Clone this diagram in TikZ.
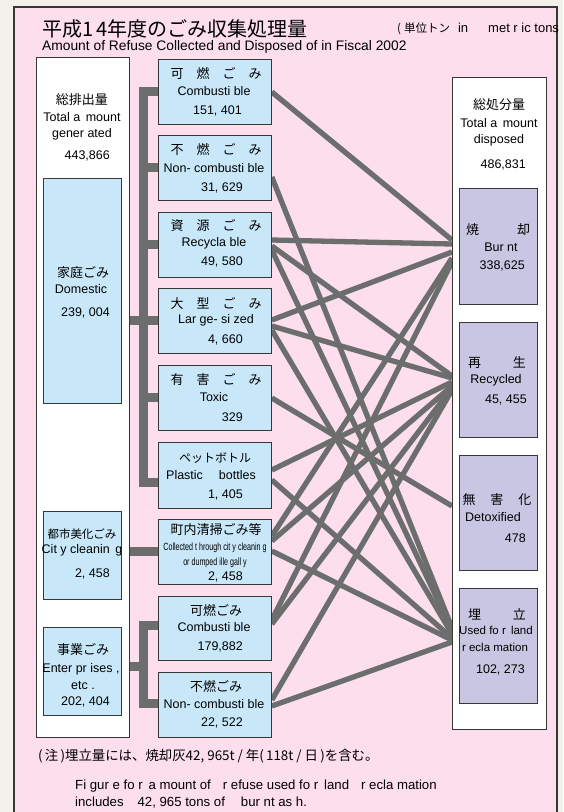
\documentclass[tikz,border=0pt]{standalone}
\usepackage{fontspec}
\setmainfont{Liberation Sans}
\newfontfamily\jp{Noto Sans CJK JP}
\definecolor{outerbg}{RGB}{244,240,236}
\definecolor{panel}{RGB}{252,222,236}
\definecolor{lblue}{RGB}{200,232,250}
\definecolor{lpurple}{RGB}{200,198,226}
\definecolor{lk}{RGB}{108,110,110}
\definecolor{edgec}{RGB}{55,55,55}
\pgfdeclarelayer{back}
\pgfdeclarelayer{links}
\pgfsetlayers{back,links,main}
\newcommand{\jg}{\hspace{13pt}}
\begin{document}
\begin{tikzpicture}[x=1pt,y=-1pt,
  bx/.style={draw=edgec, line width=0.8pt, inner sep=0pt, anchor=north west},
  wbox/.style={bx, fill=white},
  bbox/.style={bx, fill=lblue},
  pbox/.style={bx, fill=lpurple},
  link/.style={draw=lk, line width=5.3pt},
  trunk/.style={draw=lk, line width=9pt, line join=miter},
  jt/.style={font=\jp\fontsize{13}{15}\selectfont, inner sep=0pt},
  et/.style={font=\fontsize{12.5}{14}\selectfont, inner sep=0pt},
  nt/.style={font=\fontsize{12.5}{14}\selectfont, inner sep=0pt, anchor=east}]
\useasboundingbox (0,0) rectangle (563,812);
\clip (0,0) rectangle (563,812);
\begin{pgfonlayer}{back}
\fill[outerbg] (0,0) rectangle (563,812);
\draw[fill=panel, draw=edgec, line width=2pt] (14,7) rectangle (557,840);
\end{pgfonlayer}

% titles
\node[anchor=west, inner sep=0pt, font=\jp\fontsize{20}{23}\selectfont] (title) at (42,29) {平成1\,4年度のごみ収集処理量};
\node[anchor=west, inner sep=0pt, font=\jp\fontsize{11.5}{13}\selectfont] (unit) at (397,29) {(\hspace{3pt}単位トン\hspace{8pt}{\rmfamily\fontsize{13}{15}\selectfont in\hspace{20pt}met r ic tons}};
\node[anchor=west, inner sep=0pt, font=\fontsize{13.8}{16}\selectfont] (sub) at (42,47) {Amount of Refuse Collected and Disposed of in Fiscal 2002};

% left column
\node[wbox, minimum width=93pt, minimum height=680pt] (L) at (36,57) {};
\node[bbox, minimum width=78pt, minimum height=225pt] (D) at (43,178) {};
\node[bbox, minimum width=78pt, minimum height=88pt] (C) at (43,511) {};
\node[bbox, minimum width=78pt, minimum height=88pt] (E) at (43,627) {};

% middle column
\node[bbox, minimum width=113pt, minimum height=65pt] (m1) at (158,59) {};
\node[bbox, minimum width=113pt, minimum height=65pt] (m2) at (158,135) {};
\node[bbox, minimum width=113pt, minimum height=65pt] (m3) at (158,212) {};
\node[bbox, minimum width=113pt, minimum height=65pt] (m4) at (158,288) {};
\node[bbox, minimum width=113pt, minimum height=65pt] (m5) at (158,365) {};
\node[bbox, minimum width=113pt, minimum height=66pt] (m6) at (158,442) {};
\node[bbox, minimum width=113pt, minimum height=65pt] (m7) at (158,519) {};
\node[bbox, minimum width=113pt, minimum height=64pt] (m8) at (158,596) {};
\node[bbox, minimum width=113pt, minimum height=65pt] (m9) at (158,672) {};

% right column
\node[wbox, minimum width=94pt, minimum height=652pt] (R) at (452,77) {};
\node[pbox, minimum width=78pt, minimum height=116pt] (p1) at (459,188) {};
\node[pbox, minimum width=78pt, minimum height=115pt] (p2) at (459,322) {};
\node[pbox, minimum width=78pt, minimum height=115pt] (p3) at (459,455) {};
\node[pbox, minimum width=78pt, minimum height=115pt] (p4) at (459,588) {};

\coordinate (tr) at (143,0);

\begin{pgfonlayer}{links}
% trunk of domestic waste
\draw[trunk] (m1.west) -- (tr |- m1.west) -- (tr |- 0,482) -- (m6.west |- 0,482);
\draw[trunk] (tr |- m2.west) -- (m2.west);
\draw[trunk] (tr |- m3.west) -- (m3.west);
\draw[trunk] (L.east |- m4.west) -- (m4.west);
\draw[trunk] (tr |- m5.west) -- (m5.west);
\draw[trunk] (L.east |- m7.west) -- (m7.west);
\draw[trunk] (m8.west |- 0,625) -- (tr |- 0,625) -- (tr |- 0,703) -- (m9.west |- 0,703);
\draw[trunk] (L.east |- 0,666) -- (tr |- 0,666);
% disposal links
\draw[link] (m1.east |- 0,92) -- (R.west |- 0,240);
\draw[link] (m2.east |- 0,177) -- (R.west |- 0,628);
\draw[link] (m3.east |- 0,240) -- (R.west |- 0,244);
\draw[link] (m3.east |- 0,246) -- (R.west |- 0,376);
\draw[link] (m3.east |- 0,250) -- (R.west |- 0,630);
\draw[link] (m4.east |- 0,320) -- (R.west |- 0,252);
\draw[link] (m4.east |- 0,326) -- (R.west |- 0,378);
\draw[link] (m4.east |- 0,330) -- (R.west |- 0,634);
\draw[link] (m5.east |- 0,398) -- (R.west |- 0,506);
\draw[link] (m6.east |- 0,470) -- (R.west |- 0,382);
\draw[link] (m6.east |- 0,480) -- (R.west |- 0,638);
\draw[link] (m7.east |- 0,536) -- (R.west |- 0,258);
\draw[link] (m7.east |- 0,541) -- (R.west |- 0,386);
\draw[link] (m7.east |- 0,551) -- (R.west |- 0,640);
\draw[link] (m8.east |- 0,620) -- (R.west |- 0,262);
\draw[link] (m8.east |- 0,624) -- (R.west |- 0,388);
\draw[link] (m9.east |- 0,700) -- (R.west |- 0,390);
\draw[link] (m9.east |- 0,706) -- (R.west |- 0,642);
\end{pgfonlayer}

% left texts
\node[jt] (lt1) at (82,100) {総排出量};
\node[et] (lt2) at (82,117) {Total a\, mount};
\node[et] (lt3) at (82,134) {gener ated};
\node[nt] (lt4) at (110,156) {443,866};
\node[jt] (dt1) at (83,273) {家庭ごみ};
\node[et] (dt2) at (81,289) {Domestic};
\node[nt] (dt3) at (110,313) {239, 004};
\node[jt, font=\jp\fontsize{11.5}{13}\selectfont] (ct1) at (82,534) {都市美化ごみ};
\node[et] (ct2) at (82,550) {Cit y cleanin\, g};
\node[nt] (ct3) at (110,574) {2, 458};
\node[jt] (et1) at (83,650) {事業ごみ};
\node[et] (et2) at (81,669) {Enter pr ises ,};
\node[et] (et3) at (83,686) {etc .};
\node[nt] (et4) at (110,702) {202, 404};

% middle texts
\node[jt] (a1) at (216,74) {可\jg 燃\jg ご\jg み};
\node[et] (a2) at (214,91) {Combusti ble};
\node[nt] (a3) at (242,111) {151, 401};
\node[jt] (b1) at (216,150) {不\jg 燃\jg ご\jg み};
\node[et] (b2) at (214,168) {Non- combusti ble};
\node[nt] (b3) at (243,188) {31, 629};
\node[jt] (c1) at (216,226) {資\jg 源\jg ご\jg み};
\node[et] (c2) at (214,243) {Recycla ble};
\node[nt] (c3) at (243,262) {49, 580};
\node[jt] (d1) at (216,304) {大\jg 型\jg ご\jg み};
\node[et] (d2) at (216,320) {Lar ge- si zed};
\node[nt] (d3) at (243,340) {4, 660};
\node[jt] (e1) at (216,380) {有\jg 害\jg ご\jg み};
\node[et] (e2) at (214,397) {Toxic};
\node[nt] (e3) at (243,417) {329};
\node[jt, font=\jp\fontsize{12}{14}\selectfont] (f1) at (215,458) {ペットボトル};
\node[et] (f2) at (211,475) {Plastic\hspace{16pt}bottles};
\node[nt] (f3) at (243,495) {1, 405};
\node[jt] (g1) at (216,530) {町内清掃ごみ等};
\node[inner sep=0pt] (g2) at (215,548) {\scalebox{0.68}[1]{\fontsize{10.5}{12}\selectfont Collected t hrough cit y cleanin g}};
\node[inner sep=0pt] (g3) at (215,563) {\scalebox{0.68}[1]{\fontsize{10.5}{12}\selectfont or dumped ille gall y}};
\node[nt] (g4) at (243,577) {2, 458};
\node[jt] (h1) at (216,611) {可燃ごみ};
\node[et] (h2) at (214,627) {Combusti ble};
\node[nt] (h3) at (243,647) {179,882};
\node[jt] (i1) at (216,687) {不燃ごみ};
\node[et] (i2) at (214,704) {Non- combusti ble};
\node[nt] (i3) at (243,723) {22, 522};

% right texts
\node[jt] (r1) at (499,105) {総処分量};
\node[et] (r2) at (499,123) {Total a\, mount};
\node[et] (r3) at (499,140) {disposed};
\node[nt] (r4) at (526,165) {486,831};
\node[jt] (q1) at (498,230) {焼\hspace{38pt}却};
\node[et] (q2) at (501,247) {Bur nt};
\node[nt] (q3) at (525,266) {338,625};
\node[jt] (s1) at (497,363) {再\hspace{32pt}生};
\node[et] (s2) at (496,380) {Recycled};
\node[nt] (s3) at (527,400) {45, 455};
\node[jt] (u1) at (497,500) {無\hspace{15pt}害\hspace{15pt}化};
\node[et] (u2) at (493,517) {Detoxified};
\node[nt] (u3) at (526,538) {478};
\node[jt] (v1) at (497,614) {埋\hspace{32pt}立};
\node[et, font=\fontsize{11.5}{13}\selectfont] (v2) at (496,630) {Used fo r\, land};
\node[et, font=\fontsize{11.5}{13}\selectfont] (v3) at (495,647) {r ecla mation};
\node[nt] (v4) at (525,670) {102, 273};

% note
\node[anchor=west, inner sep=0pt, font=\jp\fontsize{13.4}{16}\selectfont] (n1) at (38,756) {(\,注\,)埋立量には、焼却灰42, 965t / 年(\,118t / 日\,)を含む。};
\node[anchor=west, inner sep=0pt, font=\fontsize{13.2}{15}\selectfont] (n2) at (75,786) {Fi gur e fo r\, a mount of\hspace{12pt}r efuse used fo r\, land\hspace{12pt}r ecla mation};
\node[anchor=west, inner sep=0pt, font=\fontsize{13.2}{15}\selectfont] (n3) at (75,803) {includes\hspace{14pt}42, 965 tons of\hspace{16pt}bur nt as h.};
\end{tikzpicture}
\end{document}
